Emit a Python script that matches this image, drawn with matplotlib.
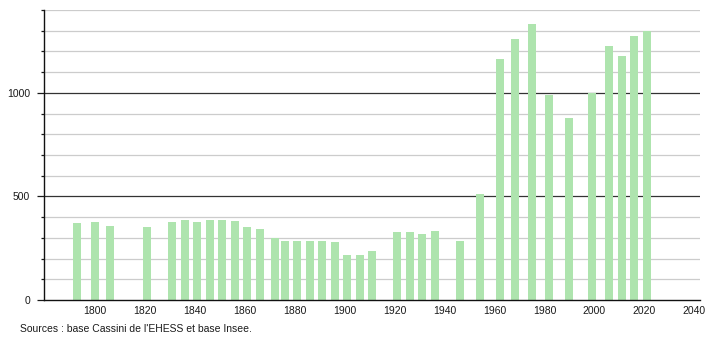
import matplotlib
matplotlib.use("Agg")
import matplotlib.pyplot as plt
from matplotlib.ticker import MultipleLocator

years = [1793, 1800, 1806, 1821, 1831, 1836, 1841, 1846, 1851, 1856, 1861, 1866,
         1872, 1876, 1881, 1886, 1891, 1896, 1901, 1906, 1911, 1921, 1926, 1931,
         1936, 1946, 1954, 1962, 1968, 1975, 1982, 1990, 1999, 2006, 2011, 2016, 2021]
population = [373, 379, 358, 352, 378, 384, 378, 387, 387, 383, 352, 344,
              299, 287, 287, 287, 287, 281, 216, 216, 236, 326, 326, 320,
              334, 287, 513, 1165, 1259, 1333, 988, 881, 1001, 1225, 1177, 1274, 1299]
x_ticks = [1800, 1820, 1840, 1860, 1880, 1900, 1920, 1940, 1960, 1980, 2000, 2020, 2040]
y_ticks = [0, 500, 1000]
source = "Sources : base Cassini de l'EHESS et base Insee."

plt.rcParams['font.family'] = ['Liberation Sans', 'DejaVu Sans']

fig = plt.figure(figsize=(7.1, 3.4), dpi=100)
ax = fig.add_axes([0.062, 0.1176, 0.924, 0.853])

ax.set_xlim(1779.6, 2042.3)
ax.set_ylim(0, 1400)

# grid lines
for v in range(100, 1401, 100):
    if v % 500 == 0:
        ax.axhline(v, color='#333333', lw=0.9, zorder=1)
    else:
        ax.axhline(v, color='#cccccc', lw=0.9, zorder=1)

ax.bar(years, population, width=3.2, color='#aee4ae', zorder=2)

ax.set_xticks(x_ticks)
ax.set_xticklabels([str(t) for t in x_ticks])
ax.set_yticks(y_ticks)
ax.set_yticklabels([str(t) for t in y_ticks])
ax.yaxis.set_minor_locator(MultipleLocator(100))

ax.tick_params(axis='x', length=0, pad=4, labelsize=7.5, colors='#1a1a1a')
ax.tick_params(axis='y', which='major', length=5, width=0.9, pad=5, labelsize=7.5, colors='#1a1a1a')
ax.tick_params(axis='y', which='minor', length=2, width=0.9, color='#1a1a1a')

for s in ['top', 'right']:
    ax.spines[s].set_visible(False)
for s in ['left', 'bottom']:
    ax.spines[s].set_color('#111111')
    ax.spines[s].set_linewidth(1.0)

fig.text(20 / 710, 1 - 329 / 340, source, fontsize=7.5, color='#1a1a1a', va='center', ha='left')

fig.savefig('out.png', dpi=100)
